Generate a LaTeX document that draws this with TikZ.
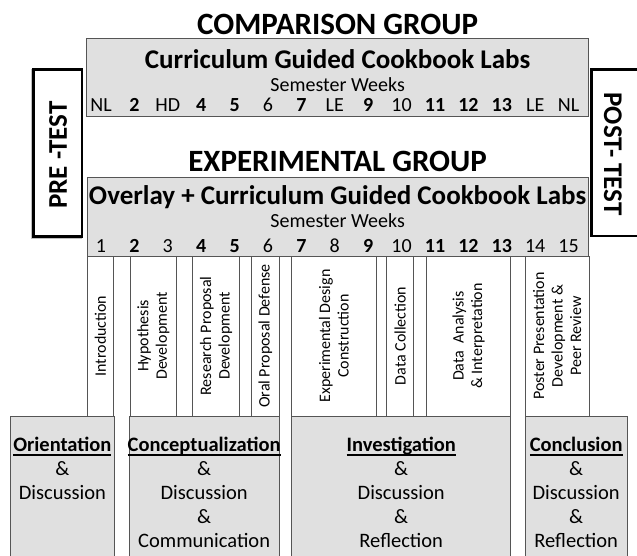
\documentclass[tikz,border=0pt]{standalone}
\usepackage{fontspec}
\setmainfont{Carlito}
\newsavebox\headbox
\newcommand{\phasehead}[1]{\sbox\headbox{\textbf{#1}}\rlap{\rule[-4pt]{\wd\headbox}{1.6pt}}\usebox\headbox}
\definecolor{bandgray}{RGB}{224,224,224}
\definecolor{edgegray}{RGB}{85,85,85}
\tikzset{
  band/.style={draw=edgegray, fill=bandgray, line width=1pt},
  cell/.style={draw=edgegray, fill=white, line width=0.8pt},
  testbox/.style={draw=black, fill=white, line width=2.6pt},
  grouptitle/.style={font=\fontsize{31}{37}\selectfont\bfseries, anchor=base, inner sep=0pt},
  bandtitle/.style={font=\fontsize{27}{32}\selectfont\bfseries, anchor=base, inner sep=0pt},
  weekrow/.style={font=\fontsize{20}{24}\selectfont, anchor=base, inner sep=0pt},
  steplabel/.style={font=\fontsize{16}{18.5}\selectfont, align=center, rotate=90, inner sep=0pt},
  phase/.style={font=\fontsize{20.5}{24}\selectfont, align=center, anchor=north, inner sep=0pt},
  testlabel/.style={font=\fontsize{27}{32}\selectfont\bfseries, inner sep=0pt}
}
\begin{document}
\begin{tikzpicture}[x=1pt, y=-1pt]
  \useasboundingbox (0,0) rectangle (637,556);
  % pre and post test
  \draw[black!25, line width=2.6pt] (31.8,70.8) rectangle (80.4,237.9);
  \draw[testbox] (33.3,69.3) rectangle (81.9,236.4);
  \draw[testbox] (591.3,69.3) rectangle (660,236);
  \node[testlabel, rotate=90] (pre) at (58,155) {PRE -TEST};
  \node[testlabel, rotate=-90] (post) at (613,154) {POST- TEST};
  % comparison group
  \node[grouptitle] (comp) at (337.6,35) {COMPARISON GROUP};
  \draw[band] (86.5,38.8) rectangle (588.8,117);
  \node[bandtitle] (comptitle) at (337.6,68.3) {Curriculum Guided Cookbook Labs};
  \node[weekrow] (compsem) at (337.6,92) {Semester Weeks};
  \foreach \w [count=\i] in {NL,\textbf{2},HD,\textbf{4},\textbf{5},6,\textbf{7},LE,\textbf{9},10,\textbf{11},\textbf{12},\textbf{13},LE,NL}{
    \node[weekrow] (cw\i) at ({101+33.4*(\i-1)},112) {\w};
  }
  % experimental group
  \node[grouptitle] (expt) at (337.6,172) {EXPERIMENTAL GROUP};
  \draw[band] (87.3,177.2) rectangle (588.8,256);
  \node[bandtitle] (exptitle) at (337.6,205) {Overlay + Curriculum Guided Cookbook Labs};
  \node[weekrow] (expsem) at (337.6,228) {Semester Weeks};
  \foreach \w [count=\i] in {1,\textbf{2},3,\textbf{4},\textbf{5},6,\textbf{7},8,\textbf{9},10,\textbf{11},\textbf{12},\textbf{13},14,15}{
    \node[weekrow] (ew\i) at ({101+33.4*(\i-1)},252) {\w};
  }
  % weekly tasks
  \foreach \xl/\xr in {87.3/113.5,130/176.7,176.7/192.7,192.7/239.3,239.3/251.7,251.7/279,291.7/376,376/386.7,386.7/413.3,413.3/426.7,426.7/510.7,525/589.3}{
    \draw[cell] (\xl,256) rectangle (\xr,416);
  }
  \foreach \x/\txt [count=\i] in {100.4/Introduction, 153.4/{Hypothesis\\Development}, 216/{Research Proposal\\Development}, 265.4/Oral Proposal Defense, 333.9/{Experimental Design\\Construction}, 400/Data Collection, 468.7/{Data~ Analysis\\\& Interpretation}, 557.2/{Poster Presentation\\Development \&\\Peer Review}}{
    \node[steplabel] (task\i) at (\x,336) {\txt};
  }
  % phases
  \foreach \xl/\xr/\txt [count=\i] in {10.7/114/{\phasehead{Orientation}\\\&\\Discussion}, 129.3/279/{\phasehead{Conceptualization}\\\&\\Discussion\\\&\\Communication}, 291.7/510.7/{\phasehead{Investigation}\\\&\\Discussion\\\&\\Reflection}, 525/627.3/{\phasehead{Conclusion}\\\&\\Discussion\\\&\\Reflection}}{
    \draw[band] (\xl,416) rectangle (\xr,570);
    \node[phase] (phase\i) at ({(\xl+\xr)/2},437) {\txt};
  }
\end{tikzpicture}
\end{document}
